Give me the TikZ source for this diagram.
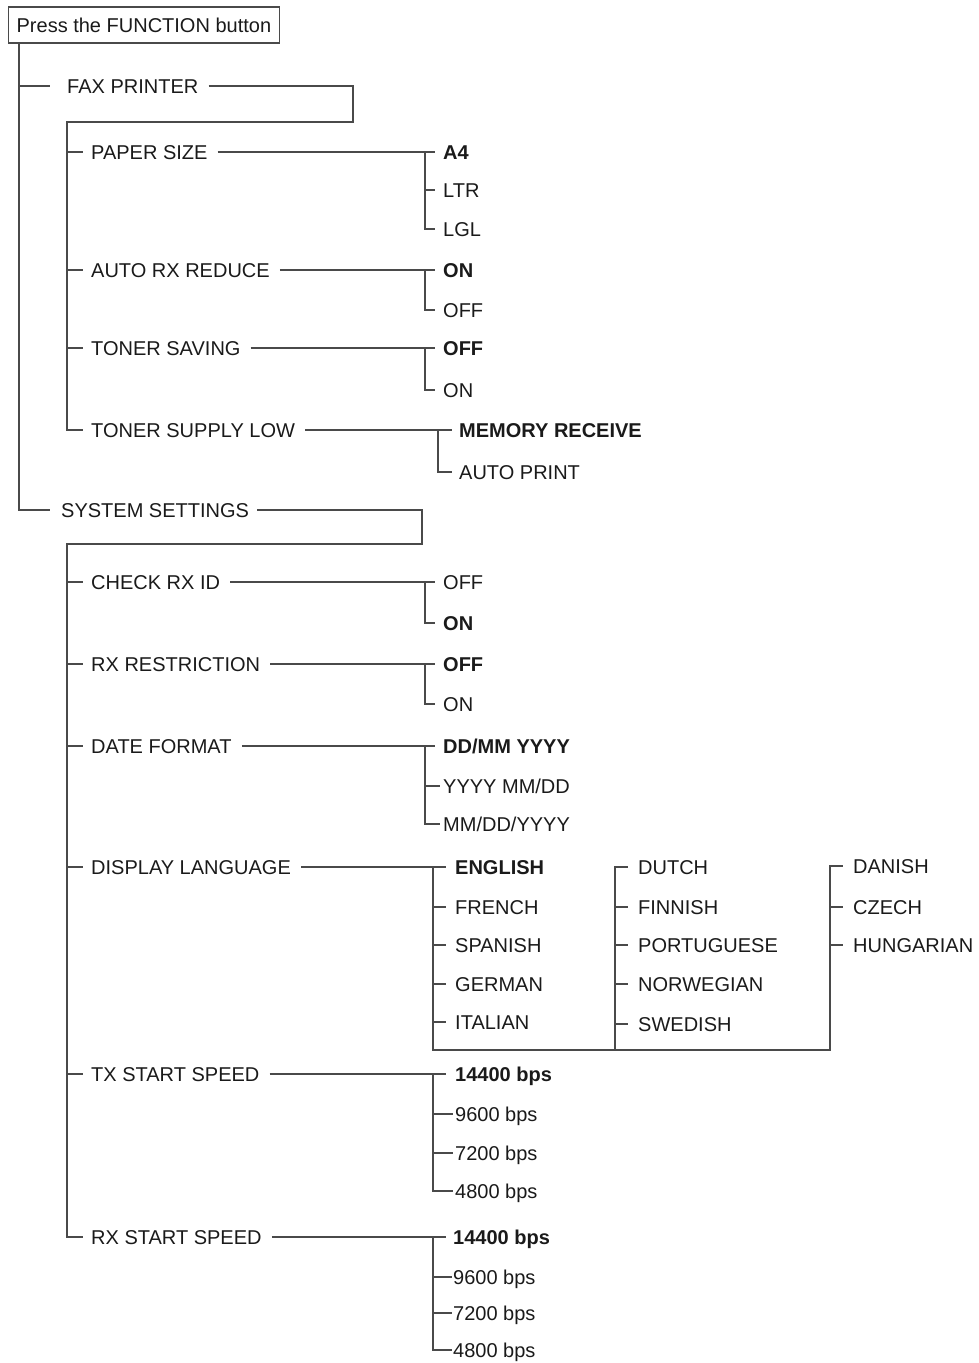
\documentclass[tikz,border=0pt]{standalone}
\usepackage{fontspec}
\setmainfont{Liberation Sans}
\usetikzlibrary{calc}
\definecolor{linegray}{HTML}{4A4A4A}
\definecolor{txt}{HTML}{1A1A1A}
\newcommand\tk[3]{\draw[ln] (#1 |- #2.west) -- ($(#2.west)+(-#3,0)$);}
\begin{document}
\begin{tikzpicture}[x=1pt,y=-1pt,
 ln/.style={draw=linegray, line width=1.3pt},
 lbl/.style={anchor=west, inner sep=0pt, text height=14.3pt, text depth=0pt, text=txt, font=\fontsize{20}{24}\selectfont},
 sel/.style={lbl, font=\fontsize{20}{24}\selectfont\bfseries}]
\useasboundingbox (0,0) rectangle (978,1363);
% columns
\coordinate (m) at (19,0);
\coordinate (fv) at (67,0);
\coordinate (cA) at (425,0);
\coordinate (cB) at (438,0);
\coordinate (cC) at (433,0);
\coordinate (cD) at (615,0);
\coordinate (cE) at (830,0);
% top box
\node[lbl, draw=linegray, line width=1.3pt, inner xsep=8pt, minimum height=36pt] (box) at (8,25) {Press the FUNCTION button};
% level 1
\node[lbl] (fp) at (67,86) {FAX PRINTER};
\node[lbl] (ss) at (61,510) {SYSTEM SETTINGS};
\draw[ln] (box.south -| m) |- ($(ss.west)+(-11,0)$);
\draw[ln] (fp.west -| m) -- ($(fp.west)+(-17,0)$);
% FAX PRINTER subitems
\node[lbl] (ps) at (91,152) {PAPER SIZE};
\node[lbl] (arr) at (91,270) {AUTO RX REDUCE};
\node[lbl] (tsv) at (91,348) {TONER SAVING};
\node[lbl] (tsl) at (91,430) {TONER SUPPLY LOW};
\draw[ln] ($(fp.east)+(10,0)$) -| (353,122) -- (67,122) |- ($(tsl.west)+(-8,0)$);
\tk{fv}{ps}{8}
\tk{fv}{arr}{8}
\tk{fv}{tsv}{8}
% PAPER SIZE
\node[sel] (a4) at (443,152) {A4};
\node[lbl] (ltr) at (443,190) {LTR};
\node[lbl] (lgl) at (443,229) {LGL};
\draw[ln] ($(ps.east)+(10,0)$) -- ($(a4.west)+(-8,0)$);
\draw[ln] (a4.west -| cA) |- ($(lgl.west)+(-8,0)$);
\tk{cA}{ltr}{8}
% AUTO RX REDUCE
\node[sel] (arron) at (443,270) {ON};
\node[lbl] (arroff) at (443,310) {OFF};
\draw[ln] ($(arr.east)+(10,0)$) -- ($(arron.west)+(-8,0)$);
\draw[ln] (arron.west -| cA) |- ($(arroff.west)+(-8,0)$);
% TONER SAVING
\node[sel] (tsvoff) at (443,348) {OFF};
\node[lbl] (tsvon) at (443,390) {ON};
\draw[ln] ($(tsv.east)+(10,0)$) -- ($(tsvoff.west)+(-8,0)$);
\draw[ln] (tsvoff.west -| cA) |- ($(tsvon.west)+(-8,0)$);
% TONER SUPPLY LOW
\node[sel] (mr) at (459,430) {MEMORY RECEIVE};
\node[lbl] (ap) at (459,472) {AUTO PRINT};
\draw[ln] ($(tsl.east)+(10,0)$) -- ($(mr.west)+(-7,0)$);
\draw[ln] (mr.west -| cB) |- ($(ap.west)+(-7,0)$);
% SYSTEM SETTINGS subitems
\node[lbl] (cri) at (91,582) {CHECK RX ID};
\node[lbl] (rxr) at (91,664) {RX RESTRICTION};
\node[lbl] (df) at (91,746) {DATE FORMAT};
\node[lbl] (dl) at (91,867) {DISPLAY LANGUAGE};
\node[lbl] (txs) at (91,1074) {TX START SPEED};
\node[lbl] (rxs) at (91,1237) {RX START SPEED};
\draw[ln] ($(ss.east)+(8,0)$) -| (422,544) -- (67,544) |- ($(rxs.west)+(-8,0)$);
\tk{fv}{cri}{8}
\tk{fv}{rxr}{8}
\tk{fv}{df}{8}
\tk{fv}{dl}{8}
\tk{fv}{txs}{8}
% CHECK RX ID
\node[lbl] (crioff) at (443,582) {OFF};
\node[sel] (crion) at (443,623) {ON};
\draw[ln] ($(cri.east)+(10,0)$) -- ($(crioff.west)+(-8,0)$);
\draw[ln] (crioff.west -| cA) |- ($(crion.west)+(-8,0)$);
% RX RESTRICTION
\node[sel] (rxroff) at (443,664) {OFF};
\node[lbl] (rxron) at (443,704) {ON};
\draw[ln] ($(rxr.east)+(10,0)$) -- ($(rxroff.west)+(-8,0)$);
\draw[ln] (rxroff.west -| cA) |- ($(rxron.west)+(-8,0)$);
% DATE FORMAT
\node[sel] (df1) at (443,746) {DD/MM YYYY};
\node[lbl] (df2) at (443,786) {YYYY MM/DD};
\node[lbl] (df3) at (443,824) {MM/DD/YYYY};
\draw[ln] ($(df.east)+(10,0)$) -- ($(df1.west)+(-8,0)$);
\draw[ln] (df1.west -| cA) |- ($(df3.west)+(-3,0)$);
\tk{cA}{df2}{3}
% DISPLAY LANGUAGE
\node[sel] (en) at (455,867) {ENGLISH};
\node[lbl] (fr) at (455,907) {FRENCH};
\node[lbl] (es) at (455,945) {SPANISH};
\node[lbl] (de) at (455,984) {GERMAN};
\node[lbl] (it) at (455,1022) {ITALIAN};
\node[lbl] (nl) at (638,867) {DUTCH};
\node[lbl] (fi) at (638,907) {FINNISH};
\node[lbl] (pt) at (638,945) {PORTUGUESE};
\node[lbl] (no) at (638,984) {NORWEGIAN};
\node[lbl] (sv) at (638,1024) {SWEDISH};
\node[lbl] (da) at (853,866) {DANISH};
\node[lbl] (cz) at (853,907) {CZECH};
\node[lbl] (hu) at (853,945) {HUNGARIAN};
\coordinate (lb) at (0,1050);
\draw[ln] ($(dl.east)+(10,0)$) -- ($(en.west)+(-9,0)$);
\draw[ln] (en.west -| cC) -- (lb -| cC) -- (lb -| cE) |- ($(da.west)+(-10,0)$);
\draw[ln] (lb -| cD) |- ($(nl.west)+(-10,0)$);
\tk{cC}{fr}{9}
\tk{cC}{es}{9}
\tk{cC}{de}{9}
\tk{cC}{it}{9}
\tk{cD}{fi}{10}
\tk{cD}{pt}{10}
\tk{cD}{no}{10}
\tk{cD}{sv}{10}
\tk{cE}{cz}{10}
\tk{cE}{hu}{10}
% TX START SPEED
\node[sel] (t1) at (455,1074) {14400 bps};
\node[lbl] (t2) at (455,1114) {9600 bps};
\node[lbl] (t3) at (455,1153) {7200 bps};
\node[lbl] (t4) at (455,1191) {4800 bps};
\draw[ln] ($(txs.east)+(10,0)$) -- ($(t1.west)+(-9,0)$);
\draw[ln] (t1.west -| cC) |- ($(t4.west)+(-2,0)$);
\tk{cC}{t2}{2}
\tk{cC}{t3}{2}
% RX START SPEED
\node[sel] (r1) at (453,1237) {14400 bps};
\node[lbl] (r2) at (453,1277) {9600 bps};
\node[lbl] (r3) at (453,1313) {7200 bps};
\node[lbl] (r4) at (453,1350) {4800 bps};
\draw[ln] ($(rxs.east)+(10,0)$) -- ($(r1.west)+(-7,0)$);
\draw[ln] (r1.west -| cC) |- ($(r4.west)+(-1,0)$);
\tk{cC}{r2}{1}
\tk{cC}{r3}{1}
\end{tikzpicture}
\end{document}
